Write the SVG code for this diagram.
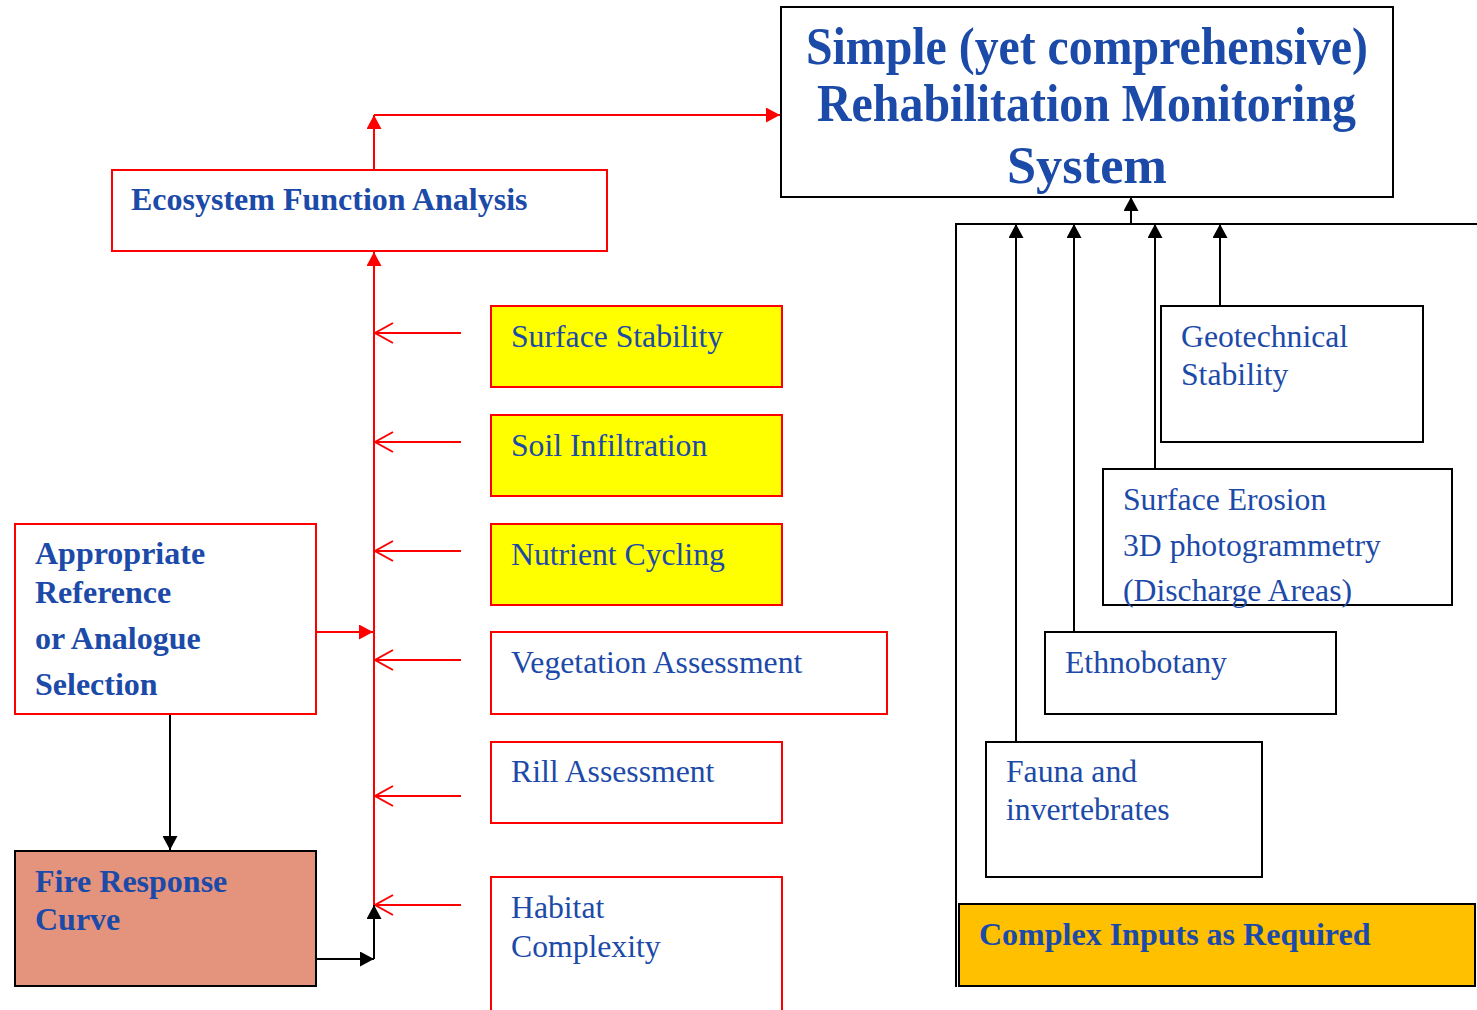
<svg xmlns="http://www.w3.org/2000/svg" width="1477" height="1010" viewBox="0 0 1477 1010">
<style>
  text { font-family: "Liberation Serif", "Times New Roman", serif; fill: #1c4aa8; }
  .t { font-size: 31.7px; }
  .b { font-size: 32px; font-weight: bold; }
  .title { font-size: 52px; font-weight: bold; }
  .rbox { fill: #ffffff; stroke: #ff0000; stroke-width: 2; }
  .ybox { fill: #ffff00; stroke: #ff0000; stroke-width: 2; }
  .kbox { fill: #ffffff; stroke: #000000; stroke-width: 2; }
  .red { fill: none; stroke: #ff0000; stroke-width: 2; }
  .blk { fill: none; stroke: #000000; stroke-width: 2; }
</style>
<defs>
  <marker id="ah-red" markerUnits="userSpaceOnUse" viewBox="0 0 14 15" markerWidth="14" markerHeight="15" refX="14" refY="7.5" orient="auto">
    <path d="M0,0 L14,7.5 L0,15 Z" fill="#ff0000"/>
  </marker>
  <marker id="ah-blk" markerUnits="userSpaceOnUse" viewBox="0 0 14 15" markerWidth="14" markerHeight="15" refX="14" refY="7.5" orient="auto">
    <path d="M0,0 L14,7.5 L0,15 Z" fill="#000000"/>
  </marker>
  <marker id="ah-open" markerUnits="userSpaceOnUse" viewBox="-21 -12 23 24" markerWidth="23" markerHeight="24" refX="0" refY="0" orient="auto">
    <path d="M-18,-10 L0,0 L-18,10" fill="none" stroke="#ff0000" stroke-width="2"/>
  </marker>
</defs>
<rect width="1477" height="1010" fill="#ffffff"/>

<g id="connectors">
  <line class="red" x1="374" y1="170" x2="374" y2="115" marker-end="url(#ah-red)"/>
  <line class="red" x1="374" y1="115" x2="780" y2="115" marker-end="url(#ah-red)"/>
  <line class="red" x1="374" y1="905" x2="374" y2="252" marker-end="url(#ah-red)"/>
  <line class="red" x1="461" y1="333" x2="375" y2="333" marker-end="url(#ah-open)"/>
  <line class="red" x1="461" y1="442" x2="375" y2="442" marker-end="url(#ah-open)"/>
  <line class="red" x1="461" y1="551" x2="375" y2="551" marker-end="url(#ah-open)"/>
  <line class="red" x1="461" y1="660" x2="375" y2="660" marker-end="url(#ah-open)"/>
  <line class="red" x1="461" y1="796" x2="375" y2="796" marker-end="url(#ah-open)"/>
  <line class="red" x1="461" y1="905" x2="375" y2="905" marker-end="url(#ah-open)"/>
  <line class="red" x1="316" y1="632" x2="373" y2="632" marker-end="url(#ah-red)"/>
  <line class="blk" x1="170" y1="714" x2="170" y2="850" marker-end="url(#ah-blk)"/>
  <line class="blk" x1="316" y1="959" x2="374" y2="959" marker-end="url(#ah-blk)"/>
  <line class="blk" x1="374" y1="959" x2="374" y2="905" marker-end="url(#ah-blk)"/>
  <path class="blk" d="M956,987 V224 H1480"/>
  <line class="blk" x1="1131" y1="224" x2="1131" y2="197" marker-end="url(#ah-blk)"/>
  <line class="blk" x1="1016" y1="742" x2="1016" y2="224" marker-end="url(#ah-blk)"/>
  <line class="blk" x1="1074" y1="632" x2="1074" y2="224" marker-end="url(#ah-blk)"/>
  <line class="blk" x1="1155" y1="469" x2="1155" y2="224" marker-end="url(#ah-blk)"/>
  <line class="blk" x1="1220" y1="306" x2="1220" y2="224" marker-end="url(#ah-blk)"/>
</g>

<g id="title">
  <rect class="kbox" x="781" y="7" width="612" height="190"/>
  <text class="title" x="806" y="64" textLength="562" lengthAdjust="spacingAndGlyphs">Simple (yet comprehensive)</text>
  <text class="title" x="817" y="121" textLength="539" lengthAdjust="spacingAndGlyphs">Rehabilitation Monitoring</text>
  <text class="title" x="1007" y="183" textLength="160" lengthAdjust="spacingAndGlyphs">System</text>
</g>

<g id="efa">
  <rect class="rbox" x="112" y="170" width="495" height="81"/>
  <text class="b" x="131" y="210">Ecosystem Function Analysis</text>
</g>

<g id="surface-stability">
  <rect class="ybox" x="491" y="306" width="291" height="81"/>
  <text class="t" x="511" y="347">Surface Stability</text>
</g>
<g id="soil-infiltration">
  <rect class="ybox" x="491" y="415" width="291" height="81"/>
  <text class="t" x="511" y="456">Soil Infiltration</text>
</g>
<g id="nutrient-cycling">
  <rect class="ybox" x="491" y="524" width="291" height="81"/>
  <text class="t" x="511" y="565">Nutrient Cycling</text>
</g>
<g id="vegetation-assessment">
  <rect class="rbox" x="491" y="632" width="396" height="82"/>
  <text class="t" x="511" y="673">Vegetation Assessment</text>
</g>
<g id="rill-assessment">
  <rect class="rbox" x="491" y="742" width="291" height="81"/>
  <text class="t" x="511" y="782">Rill Assessment</text>
</g>
<g id="habitat-complexity">
  <rect class="rbox" x="491" y="877" width="291" height="160"/>
  <text class="t" x="511" y="918">Habitat</text>
  <text class="t" x="511" y="957">Complexity</text>
</g>

<g id="reference-selection">
  <rect class="rbox" x="15" y="524" width="301" height="190"/>
  <text class="b" x="35" y="564">Appropriate</text>
  <text class="b" x="35" y="603">Reference</text>
  <text class="b" x="35" y="649">or Analogue</text>
  <text class="b" x="35" y="695">Selection</text>
</g>

<g id="fire-response">
  <rect x="15" y="851" width="301" height="135" fill="#e4947c" stroke="#000000" stroke-width="2"/>
  <text class="b" x="35" y="892">Fire Response</text>
  <text class="b" x="35" y="930">Curve</text>
</g>

<g id="geotechnical">
  <rect class="kbox" x="1161" y="306" width="262" height="136"/>
  <text class="t" x="1181" y="347">Geotechnical</text>
  <text class="t" x="1181" y="385">Stability</text>
</g>
<g id="surface-erosion">
  <rect class="kbox" x="1103" y="469" width="349" height="136"/>
  <text class="t" x="1123" y="510">Surface Erosion</text>
  <text class="t" x="1123" y="556">3D photogrammetry</text>
  <text class="t" x="1123" y="601">(Discharge Areas)</text>
</g>
<g id="ethnobotany">
  <rect class="kbox" x="1045" y="632" width="291" height="82"/>
  <text class="t" x="1065" y="673">Ethnobotany</text>
</g>
<g id="fauna">
  <rect class="kbox" x="986" y="742" width="276" height="135"/>
  <text class="t" x="1006" y="782">Fauna and</text>
  <text class="t" x="1006" y="820">invertebrates</text>
</g>
<g id="complex-inputs">
  <rect x="959" y="904" width="516" height="82" fill="#ffc000" stroke="#000000" stroke-width="2"/>
  <text class="b" x="979" y="945">Complex Inputs as Required</text>
</g>
</svg>
